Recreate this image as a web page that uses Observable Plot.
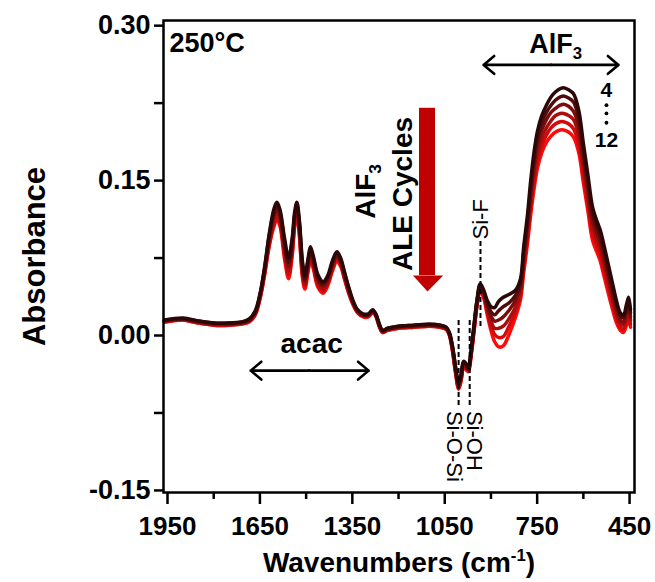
<!DOCTYPE html>
<html><head><meta charset="utf-8">
<script src="https://cdn.jsdelivr.net/npm/d3@7"></script>
<script src="https://cdn.jsdelivr.net/npm/@observablehq/plot@0.6"></script>
<style>html,body{margin:0;padding:0;background:#fff;}</style>
</head><body><div id="chart"></div>
<script>
// Wavenumber grid (cm-1)
const wavenumbers = [1960,1900,1850,1800,1750,1710,1685,1665,1650,1635,1620,1605,1595,1585,1570,1557,1545,1537,1530,1522,1512,1504,1494,1486,1476,1462,1445,1430,1414,1400,1388,1375,1362,1348,1333,1315,1298,1284,1274,1262,1252,1235,1200,1150,1100,1065,1045,1035,1025,1015,1005,997,989,981,973,965,955,945,935,925,912,900,888,875,860,840,820,804,794,781,771,760,749,735,720,705,690,675,664,648,632,615,600,585,570,555,545,535,520,505,492,480,470,460,453,447];

// Absorbance spectra, earliest cycle (dark) to latest (red)
const spectrum1 = [.015,.017,.014,.012,.012,.013,.016,.024,.040,.066,
 .098,.122,.129,.122,.094,.075,.095,.120,.129,.112,
 .072,.058,.074,.086,.076,.059,.052,.058,.073,.081,
 .075,.061,.047,.034,.025,.021,.021,.025,.021,.011,
 .005,.007,.009,.010,.011,.010,.008,.003,-.010,-.030,
 -.046,-.038,-.025,-.027,-.031,-.016,.010,.035,.050,.045,
 .034,.028,.027,.033,.037,.040,.044,.055,.085,.118,
 .150,.178,.198,.213,.223,.231,.236,.239,.240,.238,
 .234,.218,.186,.155,.124,.110,.102,.090,.070,.050,
 .033,.022,.020,.030,.037,.025];
const spectrum2 = [.015,.016,.014,.012,.012,.013,.015,.023,.039,.064,
 .096,.119,.126,.119,.090,.071,.092,.117,.126,.109,
 .069,.055,.071,.083,.074,.057,.050,.056,.071,.079,
 .073,.060,.046,.033,.024,.020,.020,.024,.021,.010,
 .005,.007,.009,.010,.011,.010,.008,.002,-.011,-.031,
 -.047,-.039,-.026,-.028,-.032,-.017,.009,.034,.049,.044,
 .031,.023,.020,.024,.028,.032,.039,.051,.080,.112,
 .143,.171,.191,.206,.216,.223,.228,.231,.232,.230,
 .226,.210,.178,.148,.118,.104,.096,.084,.064,.045,
 .029,.019,.017,.026,.033,.022];
const spectrum3 = [.014,.016,.013,.011,.011,.012,.015,.022,.038,.063,
 .093,.115,.122,.116,.086,.067,.088,.114,.124,.106,
 .066,.053,.069,.081,.071,.054,.048,.054,.069,.077,
 .072,.058,.045,.032,.024,.020,.020,.024,.020,.010,
 .004,.006,.008,.009,.010,.009,.007,.002,-.012,-.032,
 -.048,-.040,-.027,-.029,-.033,-.018,.008,.033,.047,.042,
 .028,.019,.014,.015,.018,.025,.034,.047,.075,.107,
 .137,.164,.184,.199,.209,.216,.220,.223,.224,.222,
 .217,.202,.171,.141,.111,.098,.090,.078,.059,.040,
 .025,.015,.013,.022,.028,.018];
const spectrum4 = [.014,.016,.013,.011,.011,.012,.014,.022,.037,.061,
 .091,.112,.119,.112,.082,.063,.085,.112,.121,.103,
 .062,.050,.066,.078,.069,.052,.045,.052,.067,.076,
 .070,.057,.043,.032,.023,.019,.019,.023,.020,.009,
 .004,.006,.008,.009,.010,.009,.007,.001,-.013,-.034,
 -.050,-.042,-.029,-.031,-.033,-.019,.006,.031,.046,.041,
 .026,.014,.007,.007,.009,.017,.028,.043,.070,.101,
 .130,.156,.176,.191,.201,.208,.213,.215,.215,.213,
 .209,.193,.163,.134,.105,.092,.084,.072,.053,.035,
 .020,.012,.010,.018,.024,.015];
const spectrum5 = [.013,.015,.012,.010,.010,.011,.014,.021,.036,.060,
 .088,.108,.115,.109,.078,.059,.081,.109,.119,.100,
 .059,.048,.064,.076,.066,.049,.043,.050,.065,.074,
 .069,.055,.042,.031,.023,.019,.019,.023,.019,.009,
 .003,.005,.007,.008,.009,.008,.006,.001,-.014,-.035,
 -.051,-.043,-.030,-.032,-.034,-.020,.005,.030,.044,.039,
 .023,.009,.001,-.002,-.001,.010,.023,.039,.065,.096,
 .124,.149,.169,.184,.194,.201,.205,.207,.207,.205,
 .200,.185,.156,.127,.098,.086,.078,.066,.048,.030,
 .016,.008,.006,.014,.019,.011];
const spectrum6 = [.013,.015,.012,.010,.010,.011,.013,.020,.035,.058,
 .086,.105,.112,.106,.074,.055,.078,.106,.116,.097,
 .056,.045,.061,.073,.064,.047,.041,.048,.063,.072,
 .067,.054,.041,.030,.022,.018,.018,.022,.019,.008,
 .003,.005,.007,.008,.009,.008,.006,.000,-.015,-.036,
 -.052,-.044,-.031,-.033,-.035,-.021,.004,.029,.043,.038,
 .020,.005,-.006,-.011,-.010,.002,.018,.035,.060,.090,
 .117,.142,.162,.177,.187,.193,.197,.199,.199,.197,
 .192,.177,.148,.120,.092,.080,.072,.060,.042,.025,
 .012,.005,.003,.010,.015,.008];

const seriesNames = ["s1","s2","s3","s4","s5","s6"];
const seriesColors = ["#2b0707","#520b0b","#7d0d0d","#a80e0e","#d40a0a","#ff0a0a"];
const spectra = [spectrum1, spectrum2, spectrum3, spectrum4, spectrum5, spectrum6];

const xTicks = [1950,1650,1350,1050,750,450];
const xMinorTicks = [1800,1500,1200,900,600];
const yTicks = [-0.15,0,0.15,0.30];
const yMinorTicks = [-0.075,0.075,0.225];

// Annotations (data coordinates)
const doubleArrows = [
  {x1:1490,x2:1680,y1:-0.034,y2:-0.034},{x1:1490,x2:1297,y1:-0.034,y2:-0.034},
  {x1:705,x2:924,y1:0.262,y2:0.262},{x1:705,x2:486,y1:0.262,y2:0.262}
];
const bigArrowShaft = [{x1:1132,x2:1080,y1:0.058,y2:0.220}];
const bigArrowHead = [{x:1153,y:0.058},{x:1055,y:0.058},{x:1106,y:0.0426},{x:1153,y:0.058}];
const dashedLines = [
  {x:934,y1:0.091,y2:0.008},
  {x:1005,y1:0.0145,y2:-0.068},
  {x:969,y1:0.0145,y2:-0.068}
];
const bandLabels = [
  {text:"Si-F",x:934,y:0.093,rot:-90},
  {text:"Si-O-Si",x:1021,y:-0.073,rot:90},
  {text:"Si-OH",x:956,y:-0.073,rot:90}
];
const cycleDots = [{x:525,y:0.223},{x:525,y:0.215},{x:525,y:0.206}];

const rows = [];
for (let k = spectra.length - 1; k >= 0; k--) {
  spectra[k].forEach((v, i) => rows.push({wn: wavenumbers[i], a: v, s: seriesNames[k]}));
}

const chart = Plot.plot({
  width: 655, height: 582,
  marginLeft: 163, marginRight: 21, marginTop: 20, marginBottom: 90,
  style: {fontFamily: "'Liberation Sans', Arial, sans-serif", fontWeight: "bold", background: "white", color: "black"},
  x: {domain: [1963, 434]},
  y: {domain: [-0.152, 0.305]},
  color: {domain: seriesNames, range: seriesColors},
  marks: [
    Plot.line(rows, {x: "wn", y: "a", z: "s", stroke: "s", strokeWidth: 3.5, curve: "catmull-rom"}),
    Plot.rect(bigArrowShaft, {x1: "x1", x2: "x2", y1: "y1", y2: "y2", fill: "#c00000"}),
    Plot.line(bigArrowHead, {x: "x", y: "y", fill: "#c00000", stroke: "none"}),
    Plot.arrow(doubleArrows, {x1: "x1", y1: "y1", x2: "x2", y2: "y2", stroke: "black", strokeWidth: 2.6, headLength: 8, headAngle: 80}),
    Plot.ruleX(dashedLines, {x: "x", y1: "y1", y2: "y2", stroke: "black", strokeWidth: 2, strokeDasharray: "5,3"}),
    Plot.text(bandLabels, {x: "x", y: "y", text: "text", rotate: "rot", textAnchor: "start", lineAnchor: "middle", fontSize: 22, fontWeight: "normal", fill: "black"}),
    Plot.dot(cycleDots, {x: "x", y: "y", r: 1.9, fill: "black", stroke: "none"}),
    Plot.text(["4"], {x: 525, y: 0.237, fontSize: 21, textAnchor: "middle", lineAnchor: "middle"}),
    Plot.text(["12"], {x: 525, y: 0.189, fontSize: 21, textAnchor: "middle", lineAnchor: "middle"}),
    Plot.text(["AlF3"], {x: 690, y: 0.274, fontSize: 27, textAnchor: "middle", lineAnchor: "bottom"}),
    Plot.text(["acac"], {x: 1482, y: -0.0165, fontSize: 28, textAnchor: "middle", lineAnchor: "bottom"}),
    Plot.text(["AlF3"], {x: 1307, y: 0.113, fontSize: 28, rotate: -90, textAnchor: "start", lineAnchor: "middle"}),
    Plot.text(["ALE Cycles"], {x: 1187, y: 0.137, fontSize: 28, rotate: -90, textAnchor: "middle", lineAnchor: "middle"}),
    Plot.text(["250°C"], {frameAnchor: "top-left", dx: 6, dy: 12, fontSize: 27, textAnchor: "start", lineAnchor: "top"}),
    Plot.axisX({ticks: xTicks, tickSize: 12, tickPadding: 12, tickFormat: d => String(d), fontSize: 26, strokeWidth: 2.5, label: null}),
    Plot.axisX({ticks: xMinorTicks, tickSize: 7, tickFormat: () => "", strokeWidth: 2.5, label: null}),
    Plot.axisY({ticks: yTicks, tickSize: 9, tickPadding: 4, tickFormat: d => d.toFixed(2), fontSize: 27, strokeWidth: 2.5, label: null}),
    Plot.axisY({ticks: yMinorTicks, tickSize: 9, tickFormat: () => "", strokeWidth: 2.5, label: null}),
    Plot.frame({stroke: "black", strokeWidth: 2.5}),
    Plot.text(["Absorbance"], {frameAnchor: "left", dx: -128, rotate: -90, fontSize: 31, textAnchor: "middle", lineAnchor: "middle"}),
    Plot.text(["Wavenumbers (cm-1)"], {frameAnchor: "bottom", dy: 60, fontSize: 28, textAnchor: "middle", lineAnchor: "top"})
  ]
});

// sub/superscripts as real text
d3.select(chart).selectAll("text").each(function() {
  const t = this.textContent;
  if (t === "AlF3") {
    this.textContent = "AlF";
    d3.select(this).append("tspan").attr("dy", 6).style("font-size", "0.62em").text("3");
  } else if (t === "Wavenumbers (cm-1)") {
    this.textContent = "Wavenumbers (cm";
    d3.select(this).append("tspan").attr("dy", -11).style("font-size", "0.6em").text("-1");
    d3.select(this).append("tspan").attr("dy", 11).text(")");
  }
});

document.getElementById("chart").appendChild(chart);
</script>
</body></html>
